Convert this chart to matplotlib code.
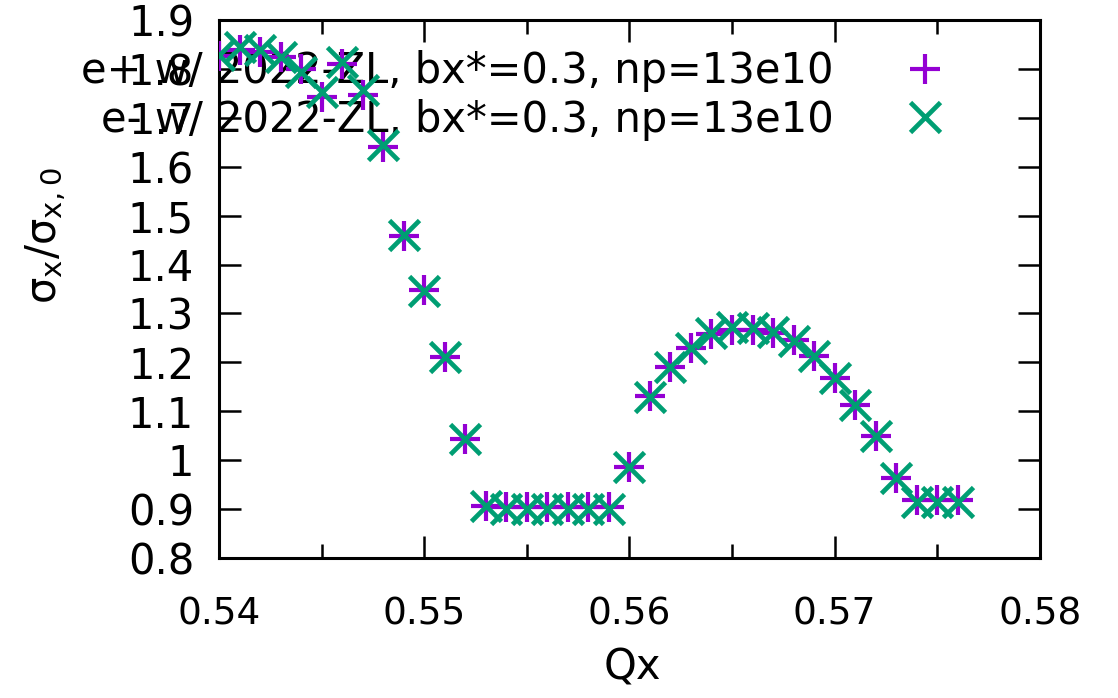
import numpy as np
import matplotlib.pyplot as plt
from matplotlib.ticker import MultipleLocator, FormatStrFormatter

# horizontal tune scan, beam size growth
qx_ep = [0.540, 0.541, 0.542, 0.543, 0.544, 0.545, 0.546, 0.547, 0.548, 0.549,
         0.550, 0.551, 0.552, 0.553, 0.554, 0.555, 0.556, 0.557, 0.558, 0.559,
         0.560, 0.561, 0.562, 0.563, 0.564, 0.565, 0.566, 0.567, 0.568, 0.569,
         0.570, 0.571, 0.572, 0.573, 0.574, 0.575, 0.576]
sx_ep = [1.826, 1.840, 1.835, 1.824, 1.800, 1.742, 1.810, 1.747, 1.640, 1.458,
         1.347, 1.211, 1.043, 0.905, 0.903, 0.903, 0.903, 0.903, 0.903, 0.903,
         0.985, 1.130, 1.190, 1.230, 1.258, 1.266, 1.266, 1.260, 1.245, 1.213,
         1.168, 1.113, 1.050, 0.963, 0.918, 0.918, 0.918]

qx_em = [0.540, 0.541, 0.542, 0.543, 0.544, 0.545, 0.546, 0.547, 0.548, 0.549,
         0.550, 0.551, 0.552, 0.553, 0.554, 0.555, 0.556, 0.557, 0.558, 0.559,
         0.560, 0.561, 0.562, 0.563, 0.564, 0.565, 0.566, 0.567, 0.568, 0.569,
         0.570, 0.571, 0.572, 0.573, 0.574, 0.575, 0.576]
sx_em = [1.828, 1.845, 1.840, 1.824, 1.795, 1.753, 1.815, 1.757, 1.645, 1.460,
         1.345, 1.211, 1.043, 0.905, 0.900, 0.900, 0.900, 0.900, 0.900, 0.900,
         0.985, 1.128, 1.190, 1.230, 1.260, 1.272, 1.270, 1.262, 1.243, 1.213,
         1.168, 1.113, 1.050, 0.963, 0.915, 0.915, 0.915]

plt.rcParams['font.family'] = 'DejaVu Sans'
plt.rcParams['font.size'] = 30

fig = plt.figure(figsize=(11.18, 6.98), dpi=100)
ax = fig.add_axes([0.196, 0.201, 0.734, 0.770])

ax.plot(qx_ep, sx_ep, ls='none', marker='+', ms=22, mew=3.0, color='#9400d3',
        label='e+ w/ 2022-ZL, bx*=0.3, np=13e10', zorder=3)
ax.plot(qx_em, sx_em, ls='none', marker='x', ms=22, mew=3.4, color='#009e73',
        label='e- w/ 2022-ZL, bx*=0.3, np=13e10', zorder=4)

ax.set_xlim(0.54, 0.58)
ax.set_ylim(0.8, 1.9)
ax.xaxis.set_major_locator(MultipleLocator(0.01))
ax.xaxis.set_minor_locator(MultipleLocator(0.005))
ax.yaxis.set_major_locator(MultipleLocator(0.1))
ax.yaxis.set_major_formatter(FormatStrFormatter('%g'))
ax.xaxis.set_major_formatter(FormatStrFormatter('%g'))
ax.tick_params(which='both', direction='in', top=True, right=True, width=1.8)
ax.tick_params(which='major', length=16)
ax.tick_params(which='minor', length=10)
ax.tick_params(axis='y', pad=18)
ax.tick_params(axis='x', pad=28, labelsize=27)
for s in ax.spines.values():
    s.set_linewidth(2.2)

ax.set_xlabel('Qx', fontsize=30)
ax.xaxis.set_label_coords(0.503, -0.165)
ax.set_ylabel(r'$\mathregular{\sigma_x/\sigma_{x,0}}$')
ax.yaxis.set_label_coords(-0.184, 0.6)

leg = ax.legend(loc='upper right', bbox_to_anchor=(0.846, 0.928),
                bbox_transform=fig.transFigure, frameon=False,
                markerfirst=False, handlelength=1.0, handletextpad=1.7,
                labelspacing=0.15, borderaxespad=0, borderpad=0, fontsize=30)
leg.set_zorder(2)

fig.savefig('out.png', dpi=100)
